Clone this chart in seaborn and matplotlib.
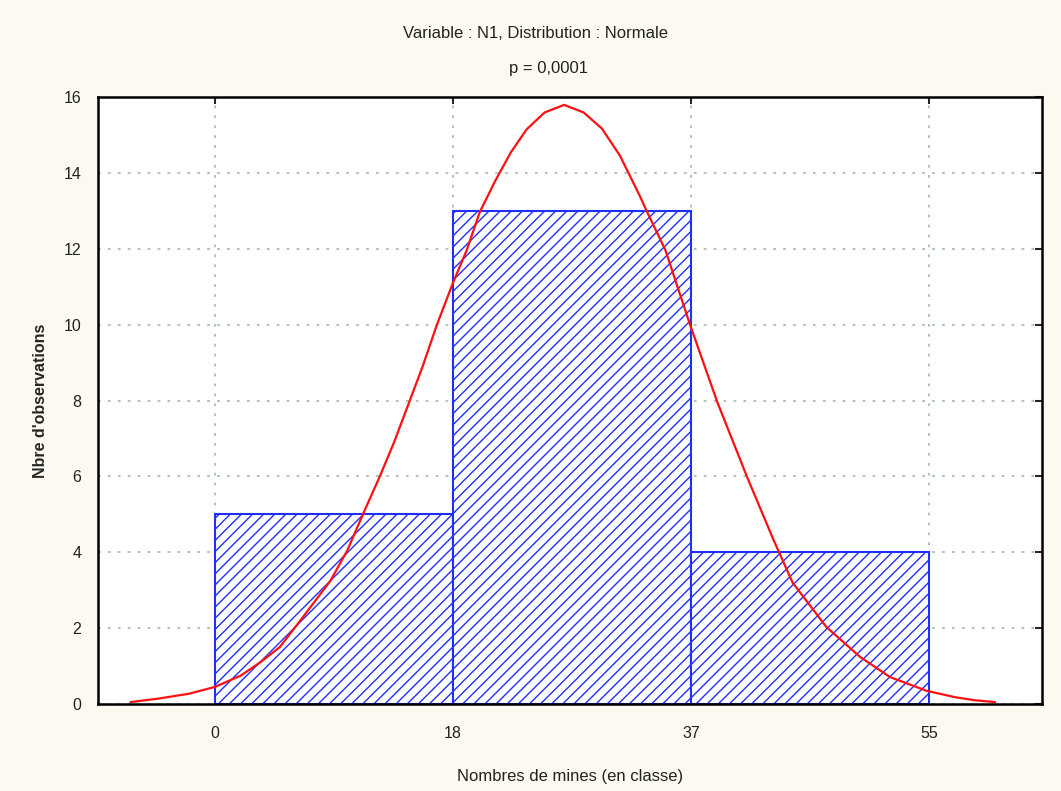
"""
Histogramme : Nombres de mines (en classe)
==========================================

Histogram of the classes with the fitted normal curve.
"""

# Libraries
import numpy as np
import pandas as pd
import seaborn as sns
import matplotlib
matplotlib.use("Agg")
import matplotlib.pyplot as plt

# ---------------------------------
# Constants
# ---------------------------------
# Class edges and counts
bin_edges = [0, 18.33, 36.67, 55]
tick_labels = ['0', '18', '37', '55']
counts = [5, 13, 4]

# Normal curve
curve_x = [-6.5, -4.4, -2.0, 0.0, 2.0, 3.5, 5.0, 6.8, 8.9, 10.2, 11.4,
           12.7, 13.8, 14.9, 16.0, 17.1, 18.33, 19.4, 20.4, 21.6, 22.8,
           24.0, 25.4, 26.9, 28.4, 29.8, 31.2, 32.7, 33.3, 34.7, 36.6,
           38.7, 41.0, 43.0, 44.5, 47.1, 49.7, 52.0, 54.8, 57.0, 58.5,
           60.1]
curve_y = [0.05, 0.14, 0.27, 0.45, 0.75, 1.1, 1.5, 2.3, 3.25, 4.05, 5.0,
           6.0, 6.9, 7.9, 8.9, 10.0, 11.1, 11.97, 12.97, 13.8, 14.55,
           15.15, 15.6, 15.8, 15.6, 15.18, 14.46, 13.42, 12.97, 11.97,
           10.0, 7.96, 5.98, 4.35, 3.2, 2.03, 1.24, 0.71, 0.35, 0.18, 0.1,
           0.05]

title = 'Variable : N1, Distribution : Normale'
subtitle = 'p = 0,0001'
xlabel = 'Nombres de mines (en classe)'
ylabel = "Nbre d'observations"

# Colours
blue = '#1f2fff'
red = '#ff1010'
grid = '#a9bcb4'

# ---------------------------------
# Configure
# ---------------------------------
sns.set_style("white")
plt.rcParams['font.family'] = ['Liberation Sans', 'DejaVu Sans']
plt.rcParams['hatch.linewidth'] = 1.0

# Data frame for seaborn
centers = [(a + b) / 2 for a, b in zip(bin_edges[:-1], bin_edges[1:])]
df = pd.DataFrame({'classe': centers, 'n': counts})
curve = pd.DataFrame({'x': curve_x, 'y': curve_y})

# ---------------------------------
# Plot
# ---------------------------------
fig = plt.figure(figsize=(10.61, 7.91), dpi=100, facecolor='#fcf9f0')
ax = fig.add_axes([0.0924, 0.110, 0.8896, 0.767])
ax.set_facecolor('white')

# Grid below the bars
ax.set_axisbelow(True)
ax.grid(True, color=grid, linestyle=(0, (1.5, 4)), linewidth=1.3)

# Bars
sns.histplot(data=df, x='classe', weights='n', bins=bin_edges,
             fill=True, color='white', edgecolor=blue, linewidth=1.5,
             alpha=1, ax=ax)
for p in ax.patches:
    p.set_hatch('///')
    p.set_facecolor('white')
    p.set_edgecolor(blue)

# Normal curve
sns.lineplot(data=curve, x='x', y='y', sort=False, estimator=None,
             color=red, linewidth=1.6, ax=ax)

# Axes
ax.set_xlim(-9.0, 63.7)
ax.set_ylim(0, 16)
ax.set_xticks(bin_edges)
ax.set_xticklabels(tick_labels)
ax.set_yticks(np.arange(0, 17, 2))
ax.tick_params(direction='in', top=True, right=True, length=5, width=1.5,
               labelsize=11.5, pad=16, labelcolor='#222222')
ax.tick_params(axis='y', pad=12)
for s in ax.spines.values():
    s.set_linewidth(1.8)
    s.set_color('black')

ax.set_xlabel(xlabel, fontsize=12, labelpad=20, color='#222222')
ax.set_ylabel(ylabel, fontsize=11.5, fontweight='bold', labelpad=11)

# Titles
fig.text(0.505, 0.958, title, ha='center', va='center', fontsize=12,
         color='#222222')
fig.text(0.517, 0.913, subtitle, ha='center', va='center', fontsize=12,
         color='#222222')

# Save
fig.savefig('out.png', dpi=100, facecolor=fig.get_facecolor())
